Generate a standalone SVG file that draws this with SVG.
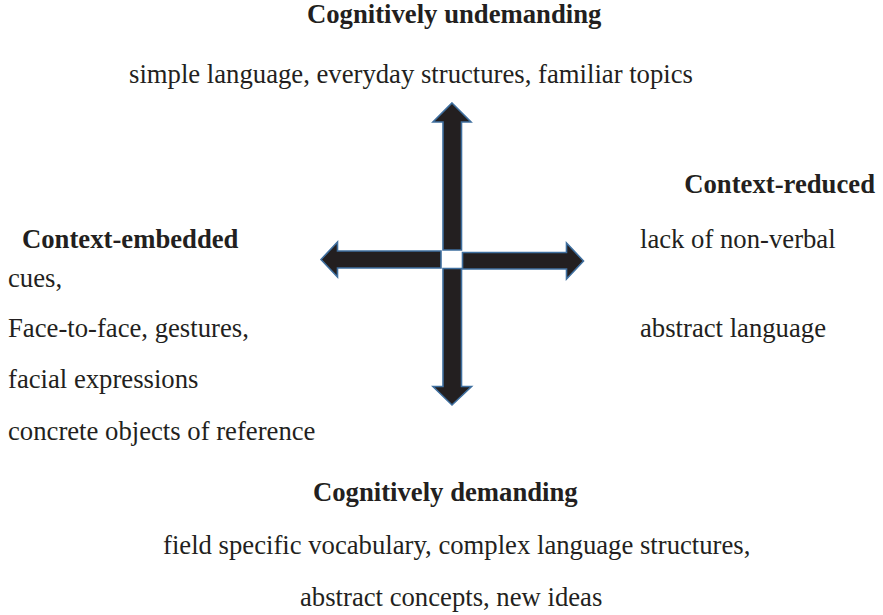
<svg xmlns="http://www.w3.org/2000/svg" width="883" height="615" viewBox="0 0 883 615">
  <style>
    .t { font-family: "Liberation Serif", "Times New Roman", serif; font-size: 26.7px; fill: #231f20; }
    .h { font-weight: bold; }
    .arrow { fill: #231f20; stroke: #3f6f9f; stroke-width: 1.6; stroke-linejoin: miter; }
  </style>
  <rect width="883" height="615" fill="#ffffff"/>

  <!-- four block arrows around a central gap -->
  <g id="connectors">
    <polygon id="arrow-up" class="arrow" points="452,103 471,122 461.5,122 461.5,250 443,250 443,122 433,122"/>
    <polygon id="arrow-left" class="arrow" points="321,259.5 337.5,242 337.5,251 441,251 441,268 337.5,268 337.5,277"/>
    <polygon id="arrow-right" class="arrow" points="583.5,261 566.5,243 566.5,252.5 462.5,252.5 462.5,269 566.5,269 566.5,279"/>
    <polygon id="arrow-down" class="arrow" points="452,405 471.5,386.5 461.5,386.5 461.5,268.5 443,268.5 443,386.5 433,386.5"/>
  </g>

  <g id="top">
    <text class="t h" x="307" y="23">Cognitively undemanding</text>
    <text class="t" x="129" y="83">simple language, everyday structures, familiar topics</text>
  </g>

  <g id="right">
    <text class="t h" x="875" y="193" text-anchor="end">Context-reduced</text>
    <text class="t" x="640" y="248">lack of non-verbal</text>
    <text class="t" x="640" y="337">abstract language</text>
  </g>

  <g id="left">
    <text class="t h" x="22" y="248">Context-embedded</text>
    <text class="t" x="8" y="287">cues,</text>
    <text class="t" x="8" y="337">Face-to-face, gestures,</text>
    <text class="t" x="8" y="388">facial expressions</text>
    <text class="t" x="8" y="440">concrete objects of reference</text>
  </g>

  <g id="bottom">
    <text class="t h" x="313" y="501">Cognitively demanding</text>
    <text class="t" x="163" y="554">field specific vocabulary, complex language structures,</text>
    <text class="t" x="300" y="606">abstract concepts, new ideas</text>
  </g>
</svg>
